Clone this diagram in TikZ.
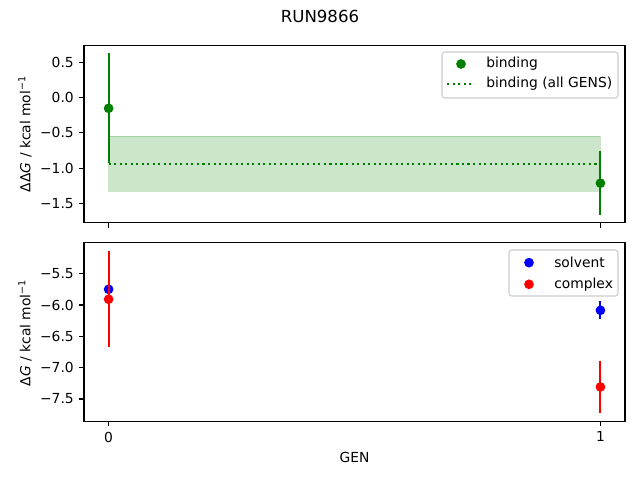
\documentclass[tikz,border=0pt]{standalone}
\usepackage{fontspec}
\setmainfont{DejaVu Sans}
\usepackage{xcolor}
\usetikzlibrary{positioning}

\definecolor{mplgreen}{HTML}{008000}
\definecolor{mplblue}{HTML}{0000FF}
\definecolor{mplred}{HTML}{FF0000}

\tikzset{
  frame/.style={line width=0.8pt},
  tickmark/.style={line width=0.8pt},
  ylab/.style={anchor=east, inner sep=0pt, xshift=-3.5bp, font=\fontsize{10}{12}\selectfont},
  xlab/.style={anchor=north, inner sep=0pt, yshift=-3.5bp, font=\fontsize{10}{12}\selectfont},
  dot/.style={circle, fill=#1, inner sep=0pt, minimum size=7bp},
  errbar/.style={line width=1.5bp, draw=#1},
  meanline/.style={line width=1.5bp, mplgreen, dash pattern=on 1.5bp off 2.475bp},
  band/.style={fill=mplgreen, draw=mplgreen, fill opacity=0.2, draw opacity=0.2, line width=1bp},
  legendbox/.style={draw=black!20, fill=white, fill opacity=0.8, rounded corners=2bp, line width=0.8pt},
  legtext/.style={anchor=west, inner sep=0pt, font=\fontsize{10}{12}\selectfont},
  axlabel/.style={inner sep=0pt, font=\fontsize{10}{12}\selectfont},
}

\begin{document}
\begin{tikzpicture}[x=0.72bp, y=0.72bp]
    \useasboundingbox (0,0) rectangle (640,480);
    \node[axlabel, font=\fontsize{12}{14}\selectfont] (title) at (320,463.3) {RUN9866};

    % upper panel
    \begin{scope}[shift={(108.6,382.4)}, x=354.1bp, y=50.76bp]
        \filldraw[band] (0,-0.55) rectangle (1,-1.33);
        \draw[meanline] (0,-0.94) -- (1,-0.94);
        \draw[errbar=mplgreen] (0,0.628) -- (0,-0.932);
        \node[dot=mplgreen] (bind0) at (0,-0.152) {};
        \draw[errbar=mplgreen] (1,-0.764) -- (1,-1.664);
        \node[dot=mplgreen] (bind1) at (1,-1.214) {};
        \draw[frame] (-0.05,-1.775) rectangle (1.05,0.745);

        \draw[tickmark] (-0.05,0.5) -- ++(-3.5bp,0) node[ylab] (ta1) {0.5};
        \draw[tickmark] (-0.05,0) -- ++(-3.5bp,0) node[ylab] (ta2) {0.0};
        \draw[tickmark] (-0.05,-0.5) -- ++(-3.5bp,0) node[ylab] (ta3) {−0.5};
        \draw[tickmark] (-0.05,-1) -- ++(-3.5bp,0) node[ylab] (ta4) {−1.0};
        \draw[tickmark] (-0.05,-1.5) -- ++(-3.5bp,0) node[ylab] (ta5) {−1.5};
        \draw[tickmark] (0,-1.775) -- ++(0,-3.5bp);
        \draw[tickmark] (1,-1.775) -- ++(0,-3.5bp);
    \end{scope}

    % lower panel
    \begin{scope}[shift={(108.6,551.2)}, x=354.1bp, y=45.14bp]
        \draw[errbar=mplblue] (0,-5.70) -- (0,-5.80);
        \node[dot=mplblue] (solv0) at (0,-5.75) {};
        \draw[errbar=mplblue] (1,-5.939) -- (1,-6.231);
        \node[dot=mplblue] (solv1) at (1,-6.085) {};
        \draw[errbar=mplred] (0,-5.144) -- (0,-6.674);
        \node[dot=mplred] (cplx0) at (0,-5.909) {};
        \draw[errbar=mplred] (1,-6.888) -- (1,-7.728);
        \node[dot=mplred] (cplx1) at (1,-7.308) {};
        \draw[frame] (-0.05,-7.86) rectangle (1.05,-5.01);

        \draw[tickmark] (-0.05,-5.5) -- ++(-3.5bp,0) node[ylab] (tb1) {−5.5};
        \draw[tickmark] (-0.05,-6) -- ++(-3.5bp,0) node[ylab] (tb2) {−6.0};
        \draw[tickmark] (-0.05,-6.5) -- ++(-3.5bp,0) node[ylab] (tb3) {−6.5};
        \draw[tickmark] (-0.05,-7) -- ++(-3.5bp,0) node[ylab] (tb4) {−7.0};
        \draw[tickmark] (-0.05,-7.5) -- ++(-3.5bp,0) node[ylab] (tb5) {−7.5};
        \draw[tickmark] (0,-7.86) -- ++(0,-3.5bp) node[xlab] (xt0) {0};
        \draw[tickmark] (1,-7.86) -- ++(0,-3.5bp) node[xlab] (xt1) {1};
    \end{scope}

    % axis labels
    \node[axlabel, rotate=90] (ylabA) at (25,346.1) {ΔΔ\textit{G} / kcal mol\textsuperscript{−1}};
    \node[axlabel, rotate=90] (ylabB) at (25,147.3) {Δ\textit{G} / kcal mol\textsuperscript{−1}};
    \node[axlabel] (genlab) at (354.5,22.7) {GEN};

    % legends
    \draw[legendbox] (442,382) rectangle (618,428);
    \node[dot=mplgreen] (legbind) at (461,416) {};
    \node[legtext, right=18bp of legbind.center] (legbindtxt) {binding};
    \draw[meanline] (447,396.3) -- (474,396.3);
    \node[legtext] (legalltxt) at (486,396.3) {binding (all GENS)};

    \draw[legendbox] (509,184) rectangle (618,230);
    \node[dot=mplblue] (legsolv) at (529,217.3) {};
    \node[legtext, right=18bp of legsolv.center] (legsolvtxt) {solvent};
    \node[dot=mplred] (legcplx) at (529,195.7) {};
    \node[legtext, right=18bp of legcplx.center] (legcplxtxt) {complex};
\end{tikzpicture}
\end{document}
